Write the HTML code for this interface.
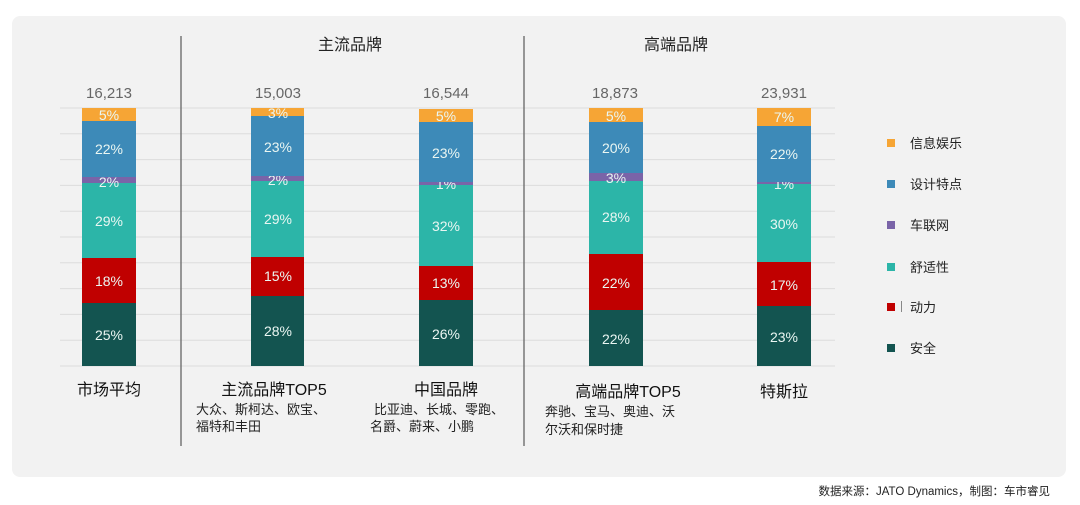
<!DOCTYPE html>
<html><head><meta charset="utf-8"><style>
body{margin:0;background:#fff;}
svg{display:block;font-family:"Liberation Sans","Noto Sans CJK SC",sans-serif;}
</style></head><body>
<svg width="1080" height="505" viewBox="0 0 1080 505" xmlns="http://www.w3.org/2000/svg">
<rect x="12" y="16" width="1054" height="461" rx="8" fill="#f2f2f2"/>
<g stroke="#dcdcdc" stroke-width="1">
<line x1="60" x2="835" y1="108" y2="108"/><line x1="60" x2="835" y1="133.8" y2="133.8"/>
<line x1="60" x2="835" y1="159.6" y2="159.6"/><line x1="60" x2="835" y1="185.4" y2="185.4"/>
<line x1="60" x2="835" y1="211.2" y2="211.2"/><line x1="60" x2="835" y1="237" y2="237"/>
<line x1="60" x2="835" y1="262.8" y2="262.8"/><line x1="60" x2="835" y1="288.6" y2="288.6"/>
<line x1="60" x2="835" y1="314.4" y2="314.4"/><line x1="60" x2="835" y1="340.2" y2="340.2"/>
<line x1="60" x2="835" y1="366" y2="366"/>
</g>
<g stroke="#777" stroke-width="1.5"><line x1="181" x2="181" y1="36" y2="446"/><line x1="524" x2="524" y1="36" y2="446"/></g>
<g font-size="16" fill="#222" text-anchor="middle"><text x="350" y="50">主流品牌</text><text x="676" y="50">高端品牌</text></g>
<g font-size="15" fill="#666" text-anchor="middle">
<text x="109" y="98">16,213</text><text x="278" y="98">15,003</text><text x="446" y="98">16,544</text><text x="615" y="98">18,873</text><text x="784" y="98">23,931</text>
</g>
<!-- bar1 -->
<g font-size="14" fill="#eaf6f2" text-anchor="middle">
<rect x="82" y="303" width="54" height="63" fill="#135450"/><text x="109" y="340">25%</text>
<rect x="82" y="258" width="54" height="45" fill="#c00000"/><text x="109" y="286">18%</text>
<rect x="82" y="183" width="54" height="75" fill="#2cb5a8"/><text x="109" y="226">29%</text>
<rect x="82" y="177" width="54" height="6" fill="#7a64a8"/><text x="109" y="187">2%</text>
<rect x="82" y="121" width="54" height="56" fill="#3d8ab8"/><text x="109" y="154">22%</text>
<rect x="82" y="108" width="54" height="13" fill="#f6a535"/><text x="109" y="120">5%</text>
<!-- bar2 -->
<rect x="251" y="296" width="53" height="70" fill="#135450"/><text x="278" y="336">28%</text>
<rect x="251" y="257" width="53" height="39" fill="#c00000"/><text x="278" y="281">15%</text>
<rect x="251" y="181" width="53" height="76" fill="#2cb5a8"/><text x="278" y="224">29%</text>
<rect x="251" y="176" width="53" height="5" fill="#7a64a8"/><text x="278" y="185">2%</text>
<rect x="251" y="116" width="53" height="60" fill="#3d8ab8"/><text x="278" y="152">23%</text>
<rect x="251" y="108" width="53" height="8" fill="#f6a535"/><text x="278" y="118">3%</text>
<!-- bar3 -->
<rect x="419" y="300" width="54" height="66" fill="#135450"/><text x="446" y="339">26%</text>
<rect x="419" y="266" width="54" height="34" fill="#c00000"/><text x="446" y="288">13%</text>
<rect x="419" y="185" width="54" height="81" fill="#2cb5a8"/><text x="446" y="231">32%</text>
<rect x="419" y="182" width="54" height="3" fill="#7a64a8"/><text x="446" y="189">1%</text>
<rect x="419" y="122" width="54" height="60" fill="#3d8ab8"/><text x="446" y="158">23%</text>
<rect x="419" y="109" width="54" height="13" fill="#f6a535"/><text x="446" y="121">5%</text>
<!-- bar4 -->
<rect x="589" y="310" width="54" height="56" fill="#135450"/><text x="616" y="344">22%</text>
<rect x="589" y="254" width="54" height="56" fill="#c00000"/><text x="616" y="288">22%</text>
<rect x="589" y="181" width="54" height="73" fill="#2cb5a8"/><text x="616" y="222">28%</text>
<rect x="589" y="173" width="54" height="8" fill="#7a64a8"/><text x="616" y="183">3%</text>
<rect x="589" y="122" width="54" height="51" fill="#3d8ab8"/><text x="616" y="153">20%</text>
<rect x="589" y="108" width="54" height="14" fill="#f6a535"/><text x="616" y="121">5%</text>
<!-- bar5 -->
<rect x="757" y="306" width="54" height="60" fill="#135450"/><text x="784" y="342">23%</text>
<rect x="757" y="262" width="54" height="44" fill="#c00000"/><text x="784" y="290">17%</text>
<rect x="757" y="184" width="54" height="78" fill="#2cb5a8"/><text x="784" y="229">30%</text>
<rect x="757" y="182" width="54" height="2" fill="#7a64a8"/><text x="784" y="189">1%</text>
<rect x="757" y="126" width="54" height="56" fill="#3d8ab8"/><text x="784" y="159">22%</text>
<rect x="757" y="108" width="54" height="18" fill="#f6a535"/><text x="784" y="122">7%</text>
</g>
<g font-size="16" fill="#111" text-anchor="middle">
<text x="109" y="395">市场平均</text><text x="274" y="395">主流品牌TOP5</text><text x="446" y="395">中国品牌</text><text x="628" y="397">高端品牌TOP5</text><text x="784" y="397">特斯拉</text>
</g>
<g font-size="13" fill="#222">
<text x="196" y="414">大众、斯柯达、欧宝、</text><text x="196" y="431">福特和丰田</text>
<text x="374" y="414">比亚迪、长城、零跑、</text><text x="370" y="431">名爵、蔚来、小鹏</text>
<text x="545" y="416">奔驰、宝马、奥迪、沃</text><text x="545" y="434">尔沃和保时捷</text>
</g>
<g font-size="13" fill="#222">
<rect x="887" y="139" width="8" height="8" fill="#f6a535"/><text x="910" y="148">信息娱乐</text>
<rect x="887" y="180" width="8" height="8" fill="#3d8ab8"/><text x="910" y="189">设计特点</text>
<rect x="887" y="221" width="8" height="8" fill="#7a64a8"/><text x="910" y="230">车联网</text>
<rect x="887" y="263" width="8" height="8" fill="#2cb5a8"/><text x="910" y="272">舒适性</text>
<rect x="887" y="303" width="8" height="8" fill="#c00000"/><rect x="901" y="301" width="1" height="11" fill="#888"/><text x="910" y="312">动力</text>
<rect x="887" y="344" width="8" height="8" fill="#135450"/><text x="910" y="353">安全</text>
</g>
<text x="1050" y="495" font-size="11.5" fill="#222" text-anchor="end">数据来源：JATO Dynamics，制图：车市睿见</text>
</svg>
</body></html>
